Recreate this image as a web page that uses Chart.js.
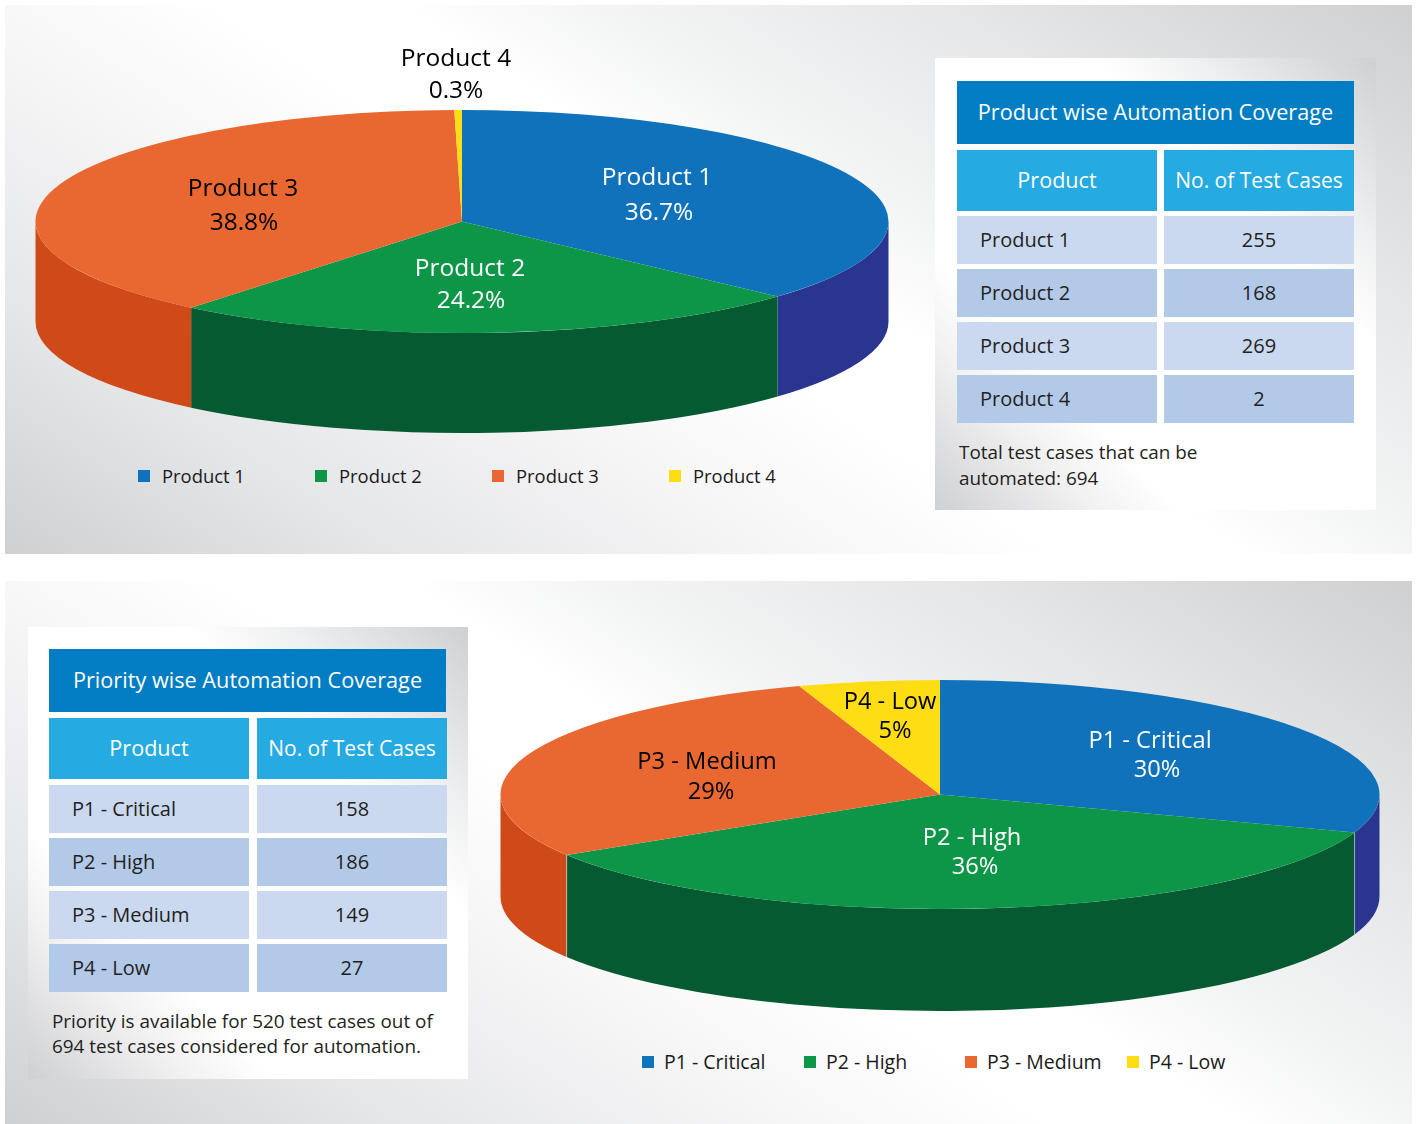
<!DOCTYPE html>
<html>
<head>
<meta charset="utf-8">
<title>Automation Coverage</title>
<script src="https://cdn.jsdelivr.net/npm/chart.js@4"></script>
<style>
  html, body { margin: 0; padding: 0; background: #fff; }
  body { position: relative; width: 1419px; height: 1124px; overflow: hidden; font-family: "Open Sans", sans-serif; color: #231f20; }
  .panel, .box, .cell, .legend-box, .legend-text, .note, canvas { position: absolute; }
  .panel { background: linear-gradient(33deg, #cfd0d2 0%, #e5e6e8 17%, #f6f6f7 35%, #fff 47%, #fff 55%, #f3f4f4 64%, #e5e6e8 80%, #cfd0d2 100%); }
  .box { background: linear-gradient(to top right, #cfd0d2 0%, #f1f1f2 18%, #fff 28%, #fff 68%, #eeeff0 80%, #cfd0d2 100%); }
  .cell { display: flex; align-items: center; justify-content: center; box-sizing: border-box; white-space: nowrap; }
  .title { background: #007dc3; color: #fff; font-size: 21.7px; padding-bottom: 2px; }
  .head { background: #25aae1; color: #fff; font-size: 21.6px; padding-bottom: 2px; }
  .head.wide { font-size: 21px; }
  .name { justify-content: flex-start; padding-left: 23px; font-size: 20px; padding-bottom: 1px; }
  .num { font-size: 20px; padding-bottom: 1px; }
  .odd { background: #cbd9f0; }
  .even { background: #b3c9e8; }
  .note { font-size: 18.9px; line-height: 25.5px; white-space: nowrap; }
  .legend-box { width: 12px; height: 12px; }
  .legend-text { line-height: 24px; white-space: nowrap; color: #1a1a1a; }
</style>
</head>
<body>
<div class="panel" style="left:5px;top:5px;width:1407px;height:549px"></div>
<div class="panel" style="left:5px;top:581px;width:1407px;height:543px"></div>
<div class="box" style="left:935px;top:58px;width:441px;height:452px"></div>
<div class="box" style="left:28px;top:627px;width:440px;height:452px"></div>
<canvas id="productChart" width="892" height="403" style="left:16px;top:40px"></canvas>
<canvas id="priorityChart" width="900" height="351" style="left:490px;top:670px"></canvas>
<script>
const productLabels = ['Product 1', 'Product 2', 'Product 3', 'Product 4']
const productValues = [255, 168, 269, 2]
const priorityLabels = ['P1 - Critical', 'P2 - High', 'P3 - Medium', 'P4 - Low']
const priorityValues = [158, 186, 149, 27]

const topColors = ['#0f72ba', '#0e9648', '#e96831', '#ffdd15']
const sideColors = ['#2a3590', '#055a31', '#cf4a18', '#c9a800']
const labelColors = ['#fff', '#fff', '#000', '#000']

// draws the pie squashed into an ellipse, with a rim under the front half
const pie3d = {
  id: 'pie3d',
  beforeDatasetsDraw(chart, args, opts) {
    const ctx = chart.ctx
    const arcs = chart.getDatasetMeta(0).data
    const { x, y, outerRadius: r } = arcs[0]
    const stretch = opts.rx / r
    ctx.save()
    ctx.translate(x, y)
    ctx.scale(stretch, 1)
    ctx.translate(-x, -y)
    arcs.forEach((arc, i) => {
      const a = Math.max(arc.startAngle, 0)
      const b = Math.min(arc.endAngle, Math.PI)
      if (a >= b) return
      ctx.beginPath()
      ctx.arc(x, y + opts.depth, r, a, b)
      ctx.arc(x, y, r, b, a, true)
      ctx.closePath()
      ctx.fillStyle = sideColors[i]
      ctx.fill()
    })
    if (opts.seam) {
      ctx.fillStyle = opts.seam
      arcs.forEach((arc) => {
        if (arc.startAngle <= 0 || arc.startAngle >= Math.PI) return
        ctx.fillRect(x + r * Math.cos(arc.startAngle) - 0.5 / stretch, y + r * Math.sin(arc.startAngle), 1 / stretch, opts.depth)
      })
    }
  },
  afterDatasetsDraw(chart, args, opts) {
    const ctx = chart.ctx
    ctx.restore()
    const rect = chart.canvas.getBoundingClientRect()
    const total = chart.data.datasets[0].data.reduce((s, v) => s + v, 0)
    ctx.save()
    ctx.textAlign = 'center'
    ctx.textBaseline = 'middle'
    ctx.font = opts.font
    chart.data.labels.forEach((label, i) => {
      const pos = opts.labelPos[i]
      const value = chart.data.datasets[0].data[i]
      ctx.fillStyle = labelColors[i]
      ctx.fillText(label, pos[0] - rect.left, pos[1] - rect.top)
      ctx.fillText((value / total * 100).toFixed(opts.decimals) + '%', pos[2] - rect.left, pos[3] - rect.top)
    })
    ctx.restore()
  }
}

const makeChart = (id, labels, values, opts) => new Chart(document.getElementById(id), {
  type: 'pie',
  data: {
    labels: labels,
    datasets: [{ data: values, backgroundColor: topColors, borderWidth: 0, clip: false }]
  },
  options: {
    responsive: false,
    animation: false,
    events: [],
    layout: { padding: opts.padding },
    plugins: { legend: { display: false }, tooltip: { enabled: false }, pie3d: opts }
  },
  plugins: [pie3d]
})

makeChart('productChart', productLabels, productValues, {
  rx: 426.5, depth: 100, decimals: 1,
  padding: { top: 70, bottom: 110 },
  font: '24.5px "Open Sans"',
  labelPos: [[657, 178, 659, 213], [470, 269, 471, 301], [243, 189, 244, 223], [456, 59, 456, 91]]
})
makeChart('priorityChart', priorityLabels, priorityValues, {
  rx: 439.5, depth: 102, decimals: 0, seam: 'rgba(255,255,255,0.45)',
  padding: { top: 10, bottom: 112 },
  font: '23.7px "Open Sans"',
  labelPos: [[1150, 741, 1157, 770], [972, 838, 975, 867], [707, 762, 711, 792], [890, 702, 895, 731]]
})

const addEl = (cls, style, text) => {
  const el = document.createElement('div')
  el.className = cls
  el.style.cssText = style
  el.textContent = text
  document.body.appendChild(el)
}

const addTable = (title, labels, values, left, top, rowTop, colWidths, colGap) => {
  addEl('cell title', `left:${left}px;top:${top}px;width:397px;height:63px`, title)
  const col2 = left + colWidths[0] + colGap
  addEl('cell head', `left:${left}px;top:${top + 69}px;width:${colWidths[0]}px;height:61px`, 'Product')
  addEl('cell head wide', `left:${col2}px;top:${top + 69}px;width:${colWidths[1]}px;height:61px`, 'No. of Test Cases')
  labels.forEach((label, i) => {
    const y = rowTop + i * 53
    const shade = i % 2 ? 'even' : 'odd'
    addEl('cell name ' + shade, `left:${left}px;top:${y}px;width:${colWidths[0]}px;height:48px`, label)
    addEl('cell num ' + shade, `left:${col2}px;top:${y}px;width:${colWidths[1]}px;height:48px`, values[i])
  })
}

addTable('Product wise Automation Coverage', productLabels, productValues, 957, 81, 216, [200, 190], 7)
addTable('Priority wise Automation Coverage', priorityLabels, priorityValues, 49, 649, 785, [200, 190], 8)

addEl('note', 'left:959px;top:440px', 'Total test cases that can be')
addEl('note', 'left:959px;top:466px', 'automated: 694')
addEl('note', 'left:52px;top:1009px', 'Priority is available for 520 test cases out of')
addEl('note', 'left:52px;top:1034px', '694 test cases considered for automation.')

const addLegend = (labels, boxLefts, y, textGap, size) => {
  labels.forEach((label, i) => {
    addEl('legend-box', `left:${boxLefts[i]}px;top:${y - 6}px;background:${topColors[i]}`, '')
    addEl('legend-text', `left:${boxLefts[i] + textGap}px;top:${y - 12}px;font-size:${size}px`, label)
  })
}
addLegend(productLabels, [138, 315, 492, 669], 476, 24, 18.4)
addLegend(priorityLabels, [642, 804, 965, 1127], 1062, 22, 19.5)
</script>
</body>
</html>
